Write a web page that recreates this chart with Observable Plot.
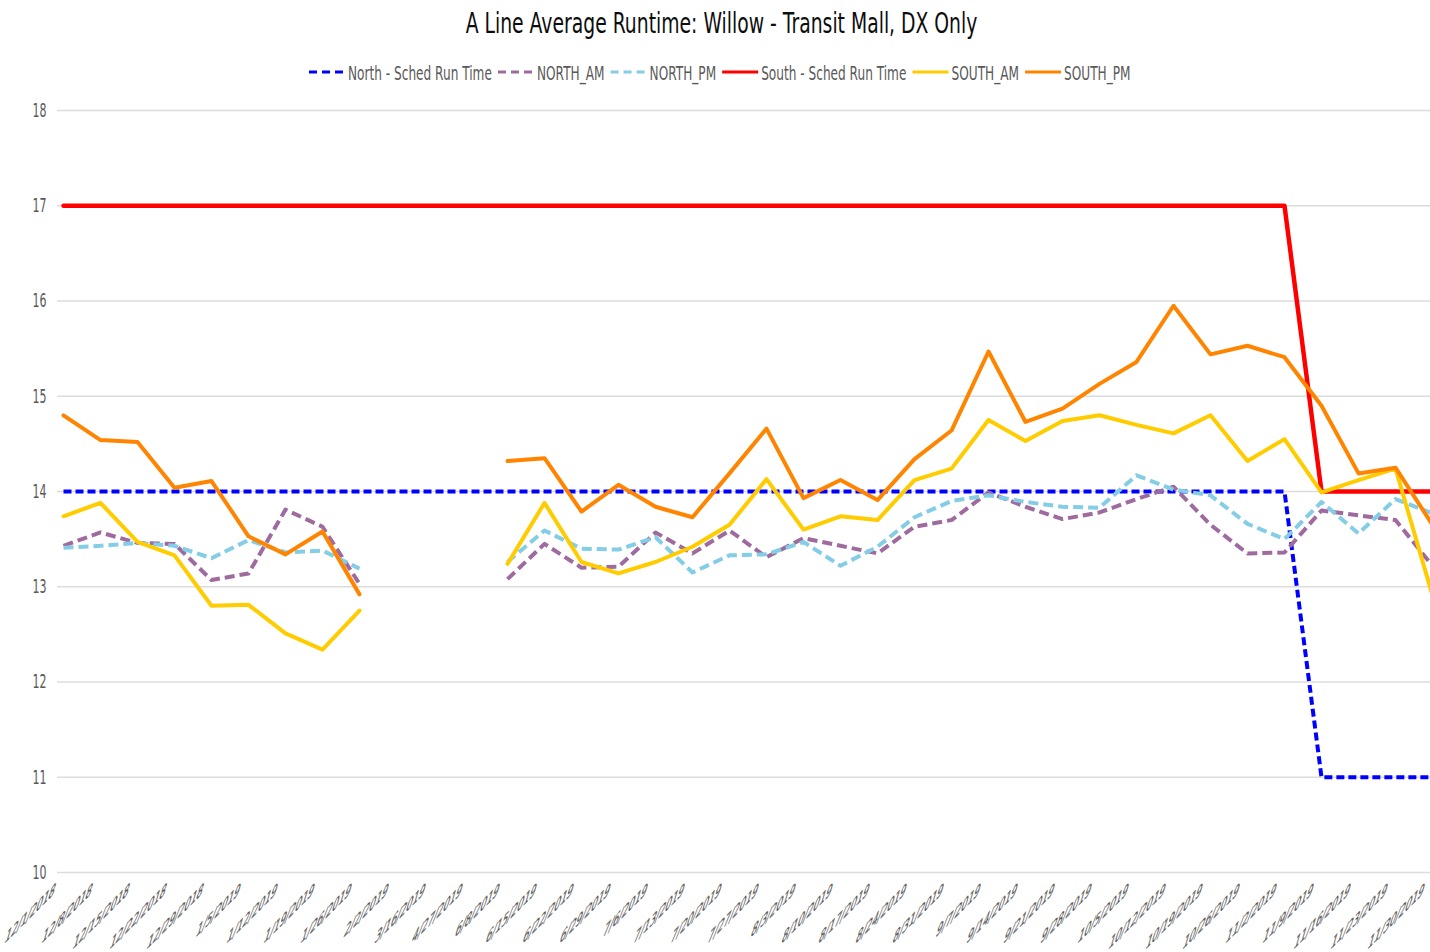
<!DOCTYPE html>
<html>
<head>
<meta charset="utf-8">
<script src="https://cdn.jsdelivr.net/npm/d3@7"></script>
<script src="https://cdn.jsdelivr.net/npm/@observablehq/plot@0.6"></script>
<style>
  html, body { margin: 0; padding: 0; background: #ffffff; overflow: hidden; }
  #chart { width: 1430px; font-family: "DejaVu Sans", sans-serif; }
  #chart svg { display: block; }
</style>
</head>
<body>
<div id="chart"></div>
<script>
// ---------- data ----------
const titleText = "A Line Average Runtime: Willow - Transit Mall, DX Only";

const dates = [
  "12/1/2018", "12/8/2018", "12/15/2018", "12/22/2018", "12/29/2018",
  "1/5/2019", "1/12/2019", "1/19/2019", "1/26/2019", "2/2/2019",
  "3/16/2019", "4/27/2019", "6/8/2019", "6/15/2019", "6/22/2019",
  "6/29/2019", "7/6/2019", "7/13/2019", "7/20/2019", "7/27/2019",
  "8/3/2019", "8/10/2019", "8/17/2019", "8/24/2019", "8/31/2019",
  "9/7/2019", "9/14/2019", "9/21/2019", "9/28/2019", "10/5/2019",
  "10/12/2019", "10/19/2019", "10/26/2019", "11/2/2019", "11/9/2019",
  "11/16/2019", "11/23/2019", "11/30/2019"
];

const yTicks = [10, 11, 12, 13, 14, 15, 16, 17, 18];

const seriesNames = ["North - Sched Run Time", "NORTH_AM", "NORTH_PM", "South - Sched Run Time", "SOUTH_AM", "SOUTH_PM"];

const northSched = [
  14, 14, 14, 14, 14, 14, 14, 14, 14, 14,
  14, 14, 14, 14, 14, 14, 14, 14, 14, 14,
  14, 14, 14, 14, 14, 14, 14, 14, 14, 14,
  14, 14, 14, 14, 11, 11, 11, 11
];

const northAM = [
  13.43, 13.57, 13.46, 13.45, 13.07, 13.14, 13.81, 13.63, 13.03, null,
  null, null, 13.08, 13.45, 13.20, 13.21, 13.57, 13.35, 13.59, 13.31,
  13.51, 13.43, 13.35, 13.63, 13.70, 13.99, 13.84, 13.71, 13.78, 13.92,
  14.05, 13.65, 13.35, 13.36, 13.80, 13.75, 13.70, 13.22
];

const northPM = [
  13.41, 13.43, 13.46, 13.43, 13.30, 13.49, 13.36, 13.38, 13.19, null,
  null, null, 13.26, 13.59, 13.40, 13.39, 13.52, 13.15, 13.33, 13.34,
  13.47, 13.22, 13.42, 13.73, 13.90, 13.96, 13.89, 13.84, 13.83, 14.17,
  14.02, 13.96, 13.66, 13.50, 13.89, 13.56, 13.92, 13.77
];

const southSched = [
  17, 17, 17, 17, 17, 17, 17, 17, 17, 17,
  17, 17, 17, 17, 17, 17, 17, 17, 17, 17,
  17, 17, 17, 17, 17, 17, 17, 17, 17, 17,
  17, 17, 17, 17, 14, 14, 14, 14
];

const southAM = [
  13.74, 13.88, 13.47, 13.33, 12.80, 12.81, 12.51, 12.34, 12.75, null,
  null, null, 13.24, 13.88, 13.26, 13.14, 13.26, 13.42, 13.65, 14.13,
  13.60, 13.74, 13.70, 14.12, 14.24, 14.75, 14.53, 14.74, 14.80, 14.70,
  14.61, 14.80, 14.32, 14.55, 13.99, 14.12, 14.24, 12.91
];

const southPM = [
  14.80, 14.54, 14.52, 14.04, 14.11, 13.53, 13.34, 13.58, 12.92, null,
  null, null, 14.32, 14.35, 13.79, 14.07, 13.84, 13.73, 14.19, 14.66,
  13.93, 14.12, 13.91, 14.34, 14.64, 15.47, 14.73, 14.87, 15.13, 15.36,
  15.95, 15.44, 15.53, 15.41, 14.90, 14.19, 14.25, 13.65
];

const seriesValues = [northSched, northAM, northPM, southSched, southAM, southPM];
const seriesColors = ["#0000ff", "#9f6b9f", "#83cde6", "#ff0000", "#ffcc00", "#ff8400"];
const seriesDash = ["8,4", "10,5", "10,5", null, null, null];
const seriesWidth = [4, 4, 4, 4.5, 4, 4];
const legendDash = ["8,5", "8,5", "8,5", null, null, null];

// ---------- layout ----------
const W = 1430;
const root = d3.select("#chart");

// Header (title + legend)
const header = root.append("svg")
  .attr("width", W).attr("height", 95)
  .style("font-family", "'DejaVu Sans', sans-serif");

const title = header.append("text")
  .text(titleText)
  .attr("font-size", 29)
  .attr("fill", "#0d0d0d")
  .attr("text-anchor", "middle");
const tw = title.node().getComputedTextLength();
title.attr("transform", `translate(721.5,33) scale(${512 / tw},1)`);

const probe = header.append("text").attr("font-size", 20).text(seriesNames[0]);
const ls = 144 / probe.node().getComputedTextLength();
probe.remove();

let lx = 309;
seriesNames.forEach((name, i) => {
  header.append("line")
    .attr("x1", lx).attr("x2", lx + 36)
    .attr("y1", 72).attr("y2", 72)
    .attr("stroke", seriesColors[i])
    .attr("stroke-width", 3.2)
    .attr("stroke-dasharray", legendDash[i]);
  const t = header.append("text")
    .text(name)
    .attr("font-size", 20)
    .attr("fill", "#595959");
  const w = t.node().getComputedTextLength() * ls;
  t.attr("transform", `translate(${lx + 39},80) scale(${ls},1)`);
  lx += 39 + w + 6;
});

// Chart
const lineMarks = seriesNames.map((name, i) => {
  const rows = dates.map((d, j) => ({date: d, value: seriesValues[i][j]}));
  return Plot.line(rows, {
    x: "date",
    y: "value",
    stroke: seriesColors[i],
    strokeWidth: seriesWidth[i],
    strokeDasharray: seriesDash[i] || undefined,
    strokeLinecap: seriesDash[i] ? "butt" : "round",
    strokeLinejoin: "round"
  });
});

const plot = Plot.plot({
  width: W,
  height: 857,
  marginTop: 15,
  marginBottom: 80,
  marginLeft: 57,
  marginRight: 0,
  style: {fontFamily: "'DejaVu Sans', sans-serif", background: "#ffffff", color: "#595959", overflow: "visible"},
  x: {type: "point", domain: dates, range: [61, 1433], padding: 0, label: null},
  y: {domain: [10, 18], label: null},
  marks: [
    Plot.gridY(yTicks, {stroke: "#dcdcdc", strokeOpacity: 1, strokeWidth: 1.3}),
    Plot.axisY(yTicks, {tickSize: 0, tickPadding: 11, fontSize: 20, fill: "#595959", label: null, tickFormat: (d) => String(d)}),
    Plot.axisX(dates, {
      tickSize: 0, tickPadding: 22, tickRotate: -45, fontSize: 19,
      fill: "#555555", textAnchor: "end", lineAnchor: "bottom", dx: -10, label: null
    }),
    ...lineMarks
  ]
});
root.node().appendChild(plot);

// Compress tick labels horizontally to match the narrow lettering
const psvg = d3.select(plot);
psvg.selectAll('g[aria-label="y-axis tick label"]').attr("font-size", 20);
psvg.selectAll('g[aria-label="y-axis tick label"] text').each(function () {
  this.setAttribute("font-size", 20);
  const t = this.getAttribute("transform") || "";
  this.setAttribute("transform", t + " scale(0.55,1)");
});
psvg.selectAll('g[aria-label="x-axis tick label"]').attr("font-size", 19);
psvg.selectAll('g[aria-label="x-axis tick label"] text').each(function () {
  this.setAttribute("font-size", 19);
  this.setAttribute("stroke", "#555555");
  this.setAttribute("stroke-width", 0.35);
  const t = this.getAttribute("transform") || "";
  const m = "matrix(0.51,-0.51,-0.28,0.96,0,0)";
  if (/rotate\([^)]*\)/.test(t)) this.setAttribute("transform", t.replace(/rotate\([^)]*\)/, m));
  else this.setAttribute("transform", t + " " + m);
});
</script>
</body>
</html>
